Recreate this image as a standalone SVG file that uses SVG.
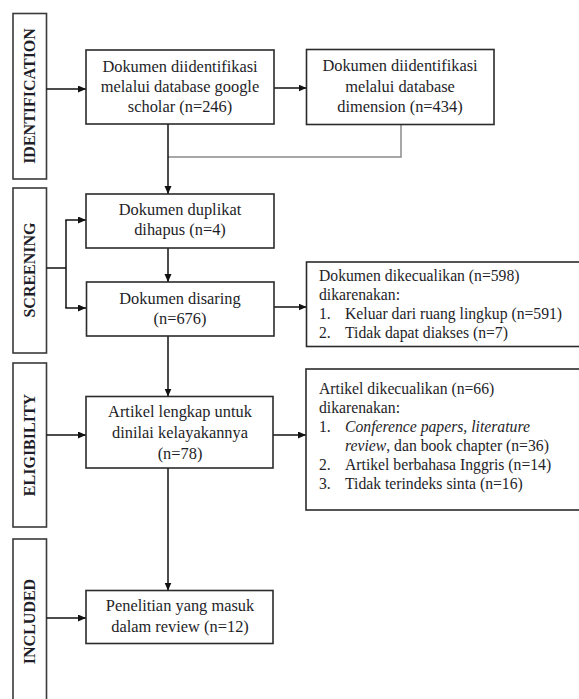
<svg xmlns="http://www.w3.org/2000/svg" width="579" height="699" viewBox="0 0 579 699">
<style>
.bg{fill:#fff}
.box{fill:#fff;stroke:#2b2b2b;stroke-width:1.6}
.side{fill:#fff;stroke:#3a3a3a;stroke-width:1.6}
.t{font-family:"Liberation Serif","Times New Roman",serif;font-size:16.4px;fill:#1e1e28;text-anchor:middle}
.r{font-family:"Liberation Serif","Times New Roman",serif;font-size:15.7px;fill:#1e1e28}
.lab{font-family:"Liberation Serif","Times New Roman",serif;font-size:16px;font-weight:bold;fill:#1e1e28;text-anchor:middle}
.c{fill:none;stroke:#111;stroke-width:1.5}
.g{fill:none;stroke:#8a8a8a;stroke-width:1.5}
</style>
<defs>
<marker id="arr" markerUnits="userSpaceOnUse" markerWidth="9" markerHeight="8" refX="8" refY="3.5" orient="auto">
<path d="M0,0 L8,3.5 L0,7 z" fill="#111"/>
</marker>
</defs>
<rect class="bg" x="0" y="0" width="579" height="699"/>

<g id="side-identification">
<rect class="side" x="13" y="13.5" width="33.5" height="165.5"/>
<text class="lab" transform="translate(29.8,96) rotate(-90)" x="0" y="5.5">IDENTIFICATION</text>
</g>
<g id="side-screening">
<rect class="side" x="13" y="188" width="33.5" height="165"/>
<text class="lab" transform="translate(29.8,270) rotate(-90)" x="0" y="5.5">SCREENING</text>
</g>
<g id="side-eligibility">
<rect class="side" x="13" y="363" width="33.5" height="164"/>
<text class="lab" transform="translate(29.8,445) rotate(-90)" x="0" y="5.5">ELIGIBILITY</text>
</g>
<g id="side-included">
<rect class="side" x="13" y="539" width="33.5" height="170"/>
<text class="lab" transform="translate(29.8,621.5) rotate(-90)" x="0" y="5.5">INCLUDED</text>
</g>

<g id="connectors">
<line class="c" x1="46.5" y1="89" x2="86" y2="89" marker-end="url(#arr)"/>
<line class="c" x1="274" y1="88" x2="306.5" y2="88" marker-end="url(#arr)"/>
<polyline class="g" points="401,124.5 401,157 168,157"/>
<line class="c" x1="168" y1="124" x2="168" y2="194" marker-end="url(#arr)"/>
<line class="c" x1="168" y1="248" x2="168" y2="282" marker-end="url(#arr)"/>
<line class="c" x1="46.5" y1="268" x2="66" y2="268"/>
<line class="c" x1="66" y1="220" x2="66" y2="308"/>
<line class="c" x1="65.3" y1="220" x2="86" y2="220" marker-end="url(#arr)"/>
<line class="c" x1="65.3" y1="308" x2="86" y2="308" marker-end="url(#arr)"/>
<line class="c" x1="274" y1="307" x2="306.5" y2="307" marker-end="url(#arr)"/>
<line class="c" x1="168" y1="336" x2="168" y2="396.5" marker-end="url(#arr)"/>
<line class="c" x1="46.5" y1="435" x2="86" y2="435" marker-end="url(#arr)"/>
<line class="c" x1="273" y1="435" x2="306" y2="435" marker-end="url(#arr)"/>
<line class="c" x1="168" y1="468" x2="168" y2="590.5" marker-end="url(#arr)"/>
<line class="c" x1="46.5" y1="618" x2="86" y2="618" marker-end="url(#arr)"/>
</g>

<g id="n-scholar">
<rect class="box" x="86" y="50" width="188" height="74"/>
<text class="t" x="180" y="72">Dokumen diidentifikasi</text>
<text class="t" x="180" y="92">melalui database google</text>
<text class="t" x="180" y="112">scholar (n=246)</text>
</g>
<g id="n-dimension">
<rect class="box" x="306.5" y="49.5" width="187.5" height="75"/>
<text class="t" x="400" y="71">Dokumen diidentifikasi</text>
<text class="t" x="400" y="91.5">melalui database</text>
<text class="t" x="400" y="112">dimension (n=434)</text>
</g>
<g id="n-duplikat">
<rect class="box" x="86" y="194" width="188" height="54"/>
<text class="t" x="180" y="215">Dokumen duplikat</text>
<text class="t" x="180" y="235">dihapus (n=4)</text>
</g>
<g id="n-disaring">
<rect class="box" x="86.5" y="282" width="187.5" height="54"/>
<text class="t" x="180" y="304">Dokumen disaring</text>
<text class="t" x="180" y="324">(n=676)</text>
</g>
<g id="n-excluded1">
<rect class="box" x="306.5" y="262" width="276" height="84.5"/>
<text class="r" x="319" y="281">Dokumen dikecualikan (n=598)</text>
<text class="r" x="319" y="300">dikarenakan:</text>
<text class="r" x="319" y="319">1.</text>
<text class="r" x="345" y="319">Keluar dari ruang lingkup (n=591)</text>
<text class="r" x="319" y="337.5">2.</text>
<text class="r" x="345" y="337.5">Tidak dapat diakses (n=7)</text>
</g>
<g id="n-eligible">
<rect class="box" x="86" y="396.5" width="187" height="71.5"/>
<text class="t" x="180" y="417">Artikel lengkap untuk</text>
<text class="t" x="180" y="438">dinilai kelayakannya</text>
<text class="t" x="180" y="458.5">(n=78)</text>
</g>
<g id="n-excluded2">
<rect class="box" x="306" y="369" width="276.5" height="141"/>
<text class="r" x="319" y="394">Artikel dikecualikan (n=66)</text>
<text class="r" x="319" y="413">dikarenakan:</text>
<text class="r" x="319" y="432">1.</text>
<text class="r" x="345" y="432" font-style="italic">Conference papers, literature</text>
<text class="r" x="345" y="451"><tspan font-style="italic">review</tspan>, dan book chapter (n=36)</text>
<text class="r" x="319" y="470">2.</text>
<text class="r" x="345" y="470">Artikel berbahasa Inggris (n=14)</text>
<text class="r" x="319" y="489">3.</text>
<text class="r" x="345" y="489">Tidak terindeks sinta (n=16)</text>
</g>
<g id="n-included">
<rect class="box" x="86" y="590.5" width="187" height="53"/>
<text class="t" x="180" y="611">Penelitian yang masuk</text>
<text class="t" x="180" y="631.5">dalam review (n=12)</text>
</g>
</svg>
